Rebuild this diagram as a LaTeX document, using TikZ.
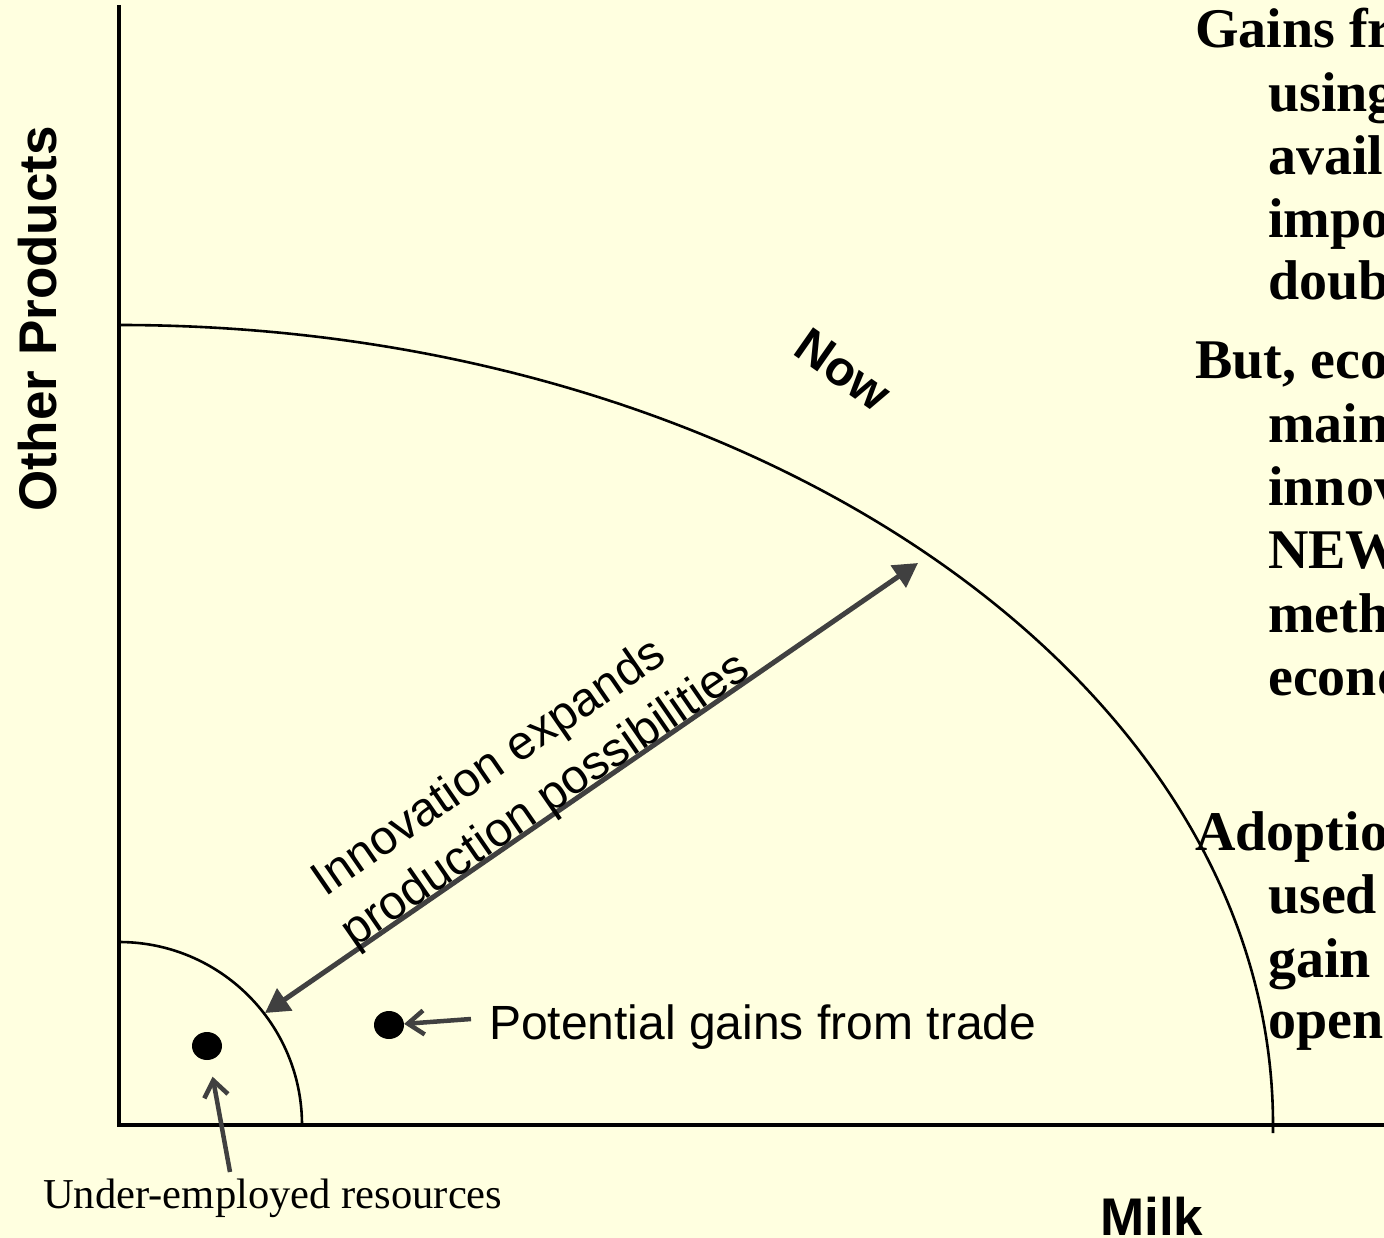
\documentclass[tikz,border=0pt]{standalone}
\usepackage{fontspec}
\setmainfont{Liberation Sans}
\newfontfamily\tnrfont{Liberation Serif}
\usetikzlibrary{arrows.meta,calc,shapes.geometric}
\definecolor{bgyellow}{HTML}{FFFFE0}
\definecolor{arrowgray}{HTML}{404040}
\begin{document}
\begin{tikzpicture}[x=1pt,y=-1pt,
  rtext/.style={anchor=base west,inner sep=0pt,font=\tnrfont\bfseries\fontsize{56}{63}\selectfont},
  axisline/.style={line width=4.5pt},
  frontier/.style={line width=2.6pt},
  dotnode/.style={ellipse,fill=black,inner sep=0pt,minimum width=30pt,minimum height=28pt},
  bigarrow/.style={arrowgray,line width=5pt,{Triangle[length=24pt,width=26pt]}-{Triangle[length=24pt,width=26pt]}},
  pointer/.style={arrowgray,line width=4.5pt,-{Straight Barb[length=16pt,width=24pt]}},
  sanslabel/.style={inner sep=0pt,font=\fontsize{48}{56}\selectfont},
  axislabel/.style={inner sep=0pt,font=\bfseries\fontsize{53}{60}\selectfont},
]
\useasboundingbox (0,0) rectangle (1384,1238);
\fill[bgyellow] (0,0) rectangle (1384,1238);
\clip (0,0) rectangle (1384,1238);

% axes
\draw[axisline] (119,5) -- (119,1125) -- (1390,1125);
% frontiers
\draw[frontier] (119,325) arc[start angle=90,end angle=0,x radius=1154pt,y radius=800pt] -- (1273,1133);
\draw[frontier] (119,942) arc[start angle=90,end angle=0,radius=183pt];

% axis labels
\node[axislabel,rotate=90,anchor=base] (ylab) at (56,319) {Other Products};
\node[axislabel,anchor=base west] (xlab) at (1100,1235) {Milk};
\node[axislabel,font=\bfseries\fontsize{49}{56}\selectfont,rotate=-35] (now) at (843,370) {Now};

% innovation arrow
\coordinate (innerTip) at (265,1013);
\coordinate (outerTip) at (918,563);
\draw[bigarrow] (innerTip) -- (outerTip);
\coordinate (l2) at ($(innerTip)!110pt!(outerTip)$);
\coordinate (l2b) at ($(l2)!2pt!90:(outerTip)$);
\coordinate (l1a) at ($(innerTip)!115pt!(outerTip)$);
\coordinate (l1b) at ($(l1a)!61pt!90:(outerTip)$);
\node[sanslabel,anchor=base west,rotate=34.6] (inno1) at (l1b) {Innovation expands};
\node[sanslabel,anchor=base west,rotate=34.6] (inno2) at (l2b) {production possibilities};

% dots
\node[dotnode] (d1) at (207,1046) {};
\node[dotnode] (d2) at (389,1025) {};

% labels and pointers
\node[sanslabel,anchor=base west] (pot) at (489,1039) {Potential gains from trade};
\coordinate (potTail) at (471,1019);
\draw[pointer] (potTail) -- (d2);
\node[anchor=base west,inner sep=0pt,font=\tnrfont\fontsize{42.6}{50}\selectfont] (under) at (43,1208) {Under-employed resources};
\coordinate (ueTail) at (230,1172);
\draw[pointer,shorten >=17pt] (ueTail) -- (d1);

% right-hand text (cut by the picture edge)
\node[rtext] (a1) at (1195,48) {Gains fr};
\node[rtext] (a2) at (1268,112) {using};
\node[rtext] (a3) at (1268,175) {avail};
\node[rtext] (a4) at (1268,238) {impo};
\node[rtext] (a5) at (1268,300) {doub};
\node[rtext] (b1) at (1195,378) {But, eco};
\node[rtext] (b2) at (1268,442) {main};
\node[rtext] (b3) at (1268,505) {innov};
\node[rtext] (b4) at (1268,568) {NEW};
\node[rtext] (b5) at (1268,632) {meth};
\node[rtext] (b6) at (1268,695) {econo};
\node[rtext] (c1) at (1195,850) {Adoptio};
\node[rtext] (c2) at (1268,913) {used};
\node[rtext] (c3) at (1268,977) {gain};
\node[rtext] (c4) at (1268,1038) {open};
\end{tikzpicture}
\end{document}
